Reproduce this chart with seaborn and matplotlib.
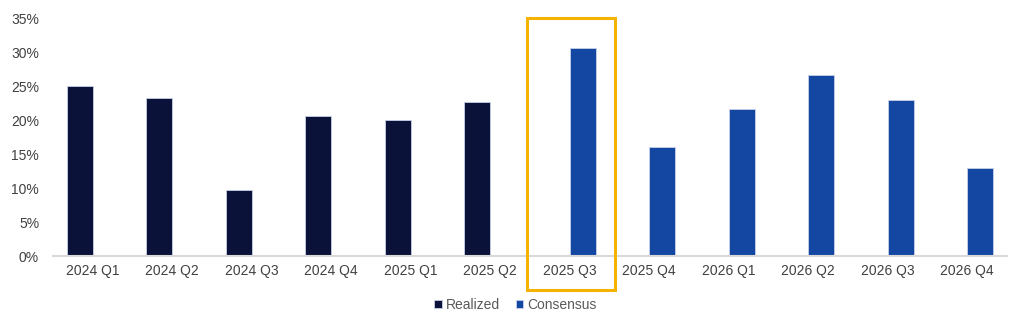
import matplotlib
matplotlib.use("Agg")
import matplotlib.pyplot as plt
import matplotlib.transforms as mtransforms
from matplotlib.patches import Rectangle
from matplotlib.ticker import FuncFormatter
import seaborn as sns
import pandas as pd

quarters = ["2024 Q1", "2024 Q2", "2024 Q3", "2024 Q4", "2025 Q1", "2025 Q2",
            "2025 Q3", "2025 Q4", "2026 Q1", "2026 Q2", "2026 Q3", "2026 Q4"]
values = [25.0, 23.3, 9.7, 20.6, 20.0, 22.6, 30.6, 16.1, 21.6, 26.6, 23.0, 13.0]
series = ["Realized"] * 6 + ["Consensus"] * 6
series_order = ["Realized", "Consensus"]
colors = {"Realized": "#0B1239", "Consensus": "#1347A1"}
highlight = "2025 Q3"

df = pd.DataFrame({"quarter": quarters, "value": values, "series": series})

sns.set_theme(style="white")
plt.rcParams["font.family"] = ["Liberation Sans", "DejaVu Sans"]

fig = plt.figure(figsize=(10.24, 3.28), dpi=100)
ax = fig.add_axes([53 / 1024, 1 - 256 / 328, (1007 - 53) / 1024, (256 - 18) / 328])

sns.barplot(data=df, x="quarter", y="value", hue="series", hue_order=series_order,
            order=quarters, palette=colors, saturation=1, dodge=True, width=0.66,
            edgecolor="#c8d0e8", linewidth=0.6, ax=ax, legend=True)

ax.set_ylim(0, 35)
ax.set_xlim(-0.5, len(quarters) - 0.5)
ax.set_yticks(range(0, 36, 5))
ax.yaxis.set_major_formatter(FuncFormatter(lambda v, p: f"{v:.0f}%"))
ax.set_xlabel("")
ax.set_ylabel("")
for s in ["top", "right", "left"]:
    ax.spines[s].set_visible(False)
ax.spines["bottom"].set_color("#d9d9d9")
ax.spines["bottom"].set_linewidth(1.5)
ax.tick_params(axis="both", length=0, labelsize=10, labelcolor="#404040")
ax.tick_params(axis="y", pad=10)
ax.tick_params(axis="x", pad=6)

# highlight box
idx = quarters.index(highlight)
trans = mtransforms.blended_transform_factory(ax.transData, ax.transAxes)
rect = Rectangle((idx - 0.54, -0.143), 1.11, 1.143, transform=trans, fill=False,
                 edgecolor="#F5B301", linewidth=2.2, clip_on=False, zorder=5)
ax.add_patch(rect)

leg = ax.legend(loc="center", bbox_to_anchor=(0.485, -0.205), ncol=2, frameon=False,
                handlelength=0.55, handleheight=0.55, handletextpad=0.3,
                columnspacing=1.1, fontsize=10)
for t in leg.get_texts():
    t.set_color("#595959")

fig.savefig("out.png", dpi=100)
